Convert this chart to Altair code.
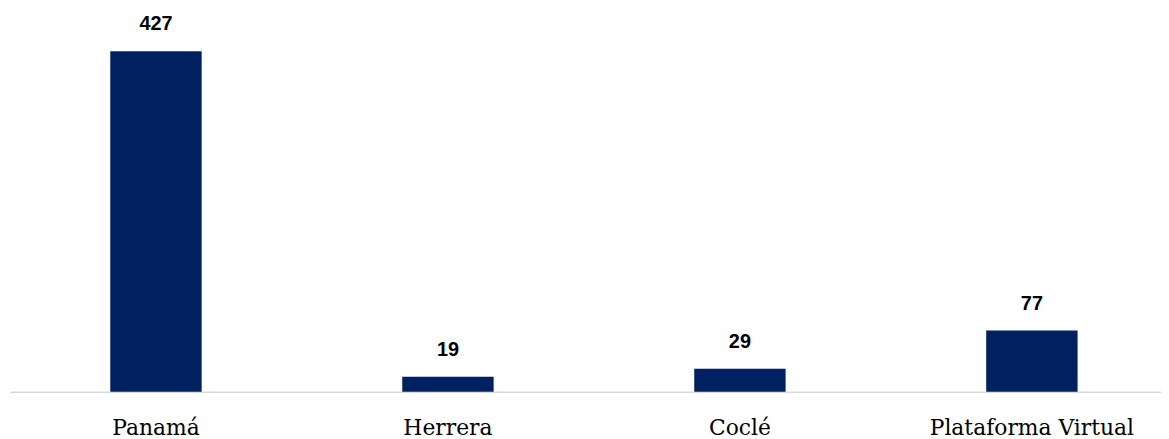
import altair as alt
import pandas as pd

categories = ["Panamá", "Herrera", "Coclé", "Plataforma Virtual"]
values = [427, 19, 29, 77]

df = pd.DataFrame({"cat": categories, "val": values})

x = alt.X(
    "cat:N",
    sort=categories,
    title=None,
    scale=alt.Scale(range=[2, 1178], paddingInner=0.687, paddingOuter=0.3435),
    axis=alt.Axis(
        labelAngle=0,
        ticks=False,
        tickSize=0,
        labelFont="DejaVu Serif",
        labelFontSize=22,
        labelColor="#000000",
        labelBaseline="alphabetic",
        labelPadding=43,
        labelLimit=0,
        domainColor="#d9d9d9",
        domainWidth=1.5,
        labelOverlap=False,
    ),
)
y = alt.Y(
    "val:Q",
    title=None,
    scale=alt.Scale(domain=[0, 479.3], nice=False, zero=True),
    axis=None,
)

bars = alt.Chart(df).mark_bar(color="#002060").encode(x=x, y=y)
labels = alt.Chart(df).mark_text(
    baseline="bottom",
    dy=-17,
    font="Liberation Sans",
    fontWeight="bold",
    fontSize=20,
    color="#000000",
).encode(x=x, y=y, text="val:Q")

chart = (
    alt.layer(bars, labels)
    .properties(
        width=1161,
        height=385,
        autosize=alt.AutoSizeParams(type="none"),
        padding={"left": 0, "top": 0, "right": 0, "bottom": 46},
    )
    .configure_view(stroke=None)
)

chart.save("out.html", embed_options={"renderer": "svg", "actions": False})
